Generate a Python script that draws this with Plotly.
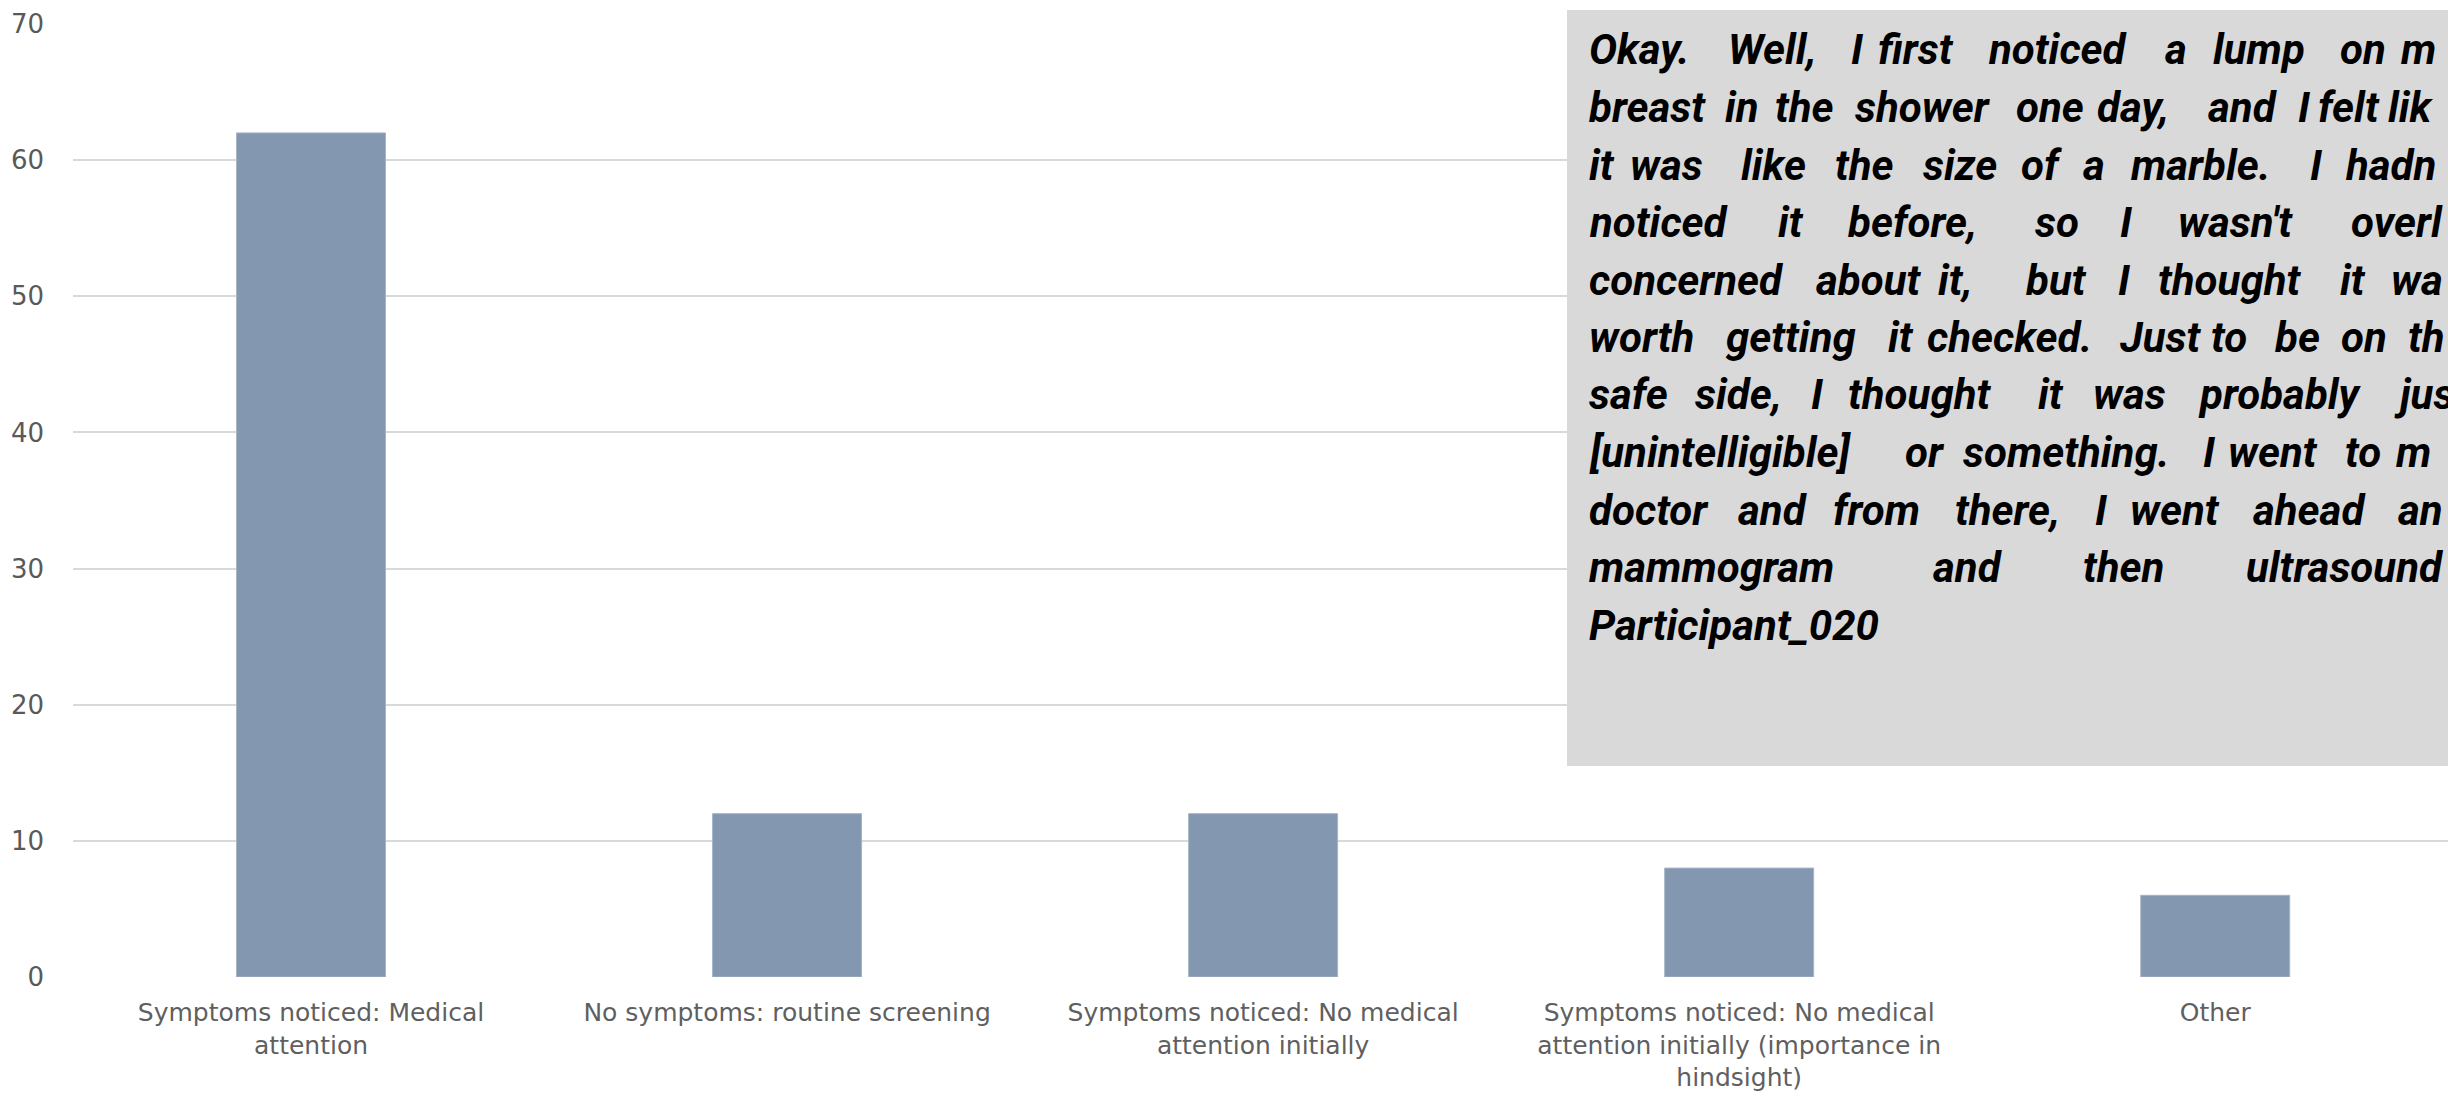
import plotly.graph_objects as go

# ---- data ---------------------------------------------------------------
categories = [
    "Symptoms noticed: Medical attention",
    "No symptoms: routine screening",
    "Symptoms noticed: No medical attention initially",
    "Symptoms noticed: No medical attention initially (importance in hindsight)",
    "Other",
]
tick_labels = [
    "Symptoms noticed: Medical<br>attention",
    "No symptoms: routine screening",
    "Symptoms noticed: No medical<br>attention initially",
    "Symptoms noticed: No medical<br>attention initially (importance in<br>hindsight)",
    "Other",
]
counts = [62, 12, 12, 8, 6]
y_ticks = [0, 10, 20, 30, 40, 50, 60, 70]

# quote text as it appears in the panel (the panel runs off the right edge)
quote_lines = [
    "Okay. Well, I first noticed a lump on m",
    "breast in the shower one day, and I felt lik",
    "it was like the size of a marble. I hadn",
    "noticed it before, so I wasn't overl",
    "concerned about it, but I thought it wa",
    "worth getting it checked. Just to be on th",
    "safe side, I thought it was probably jus",
    "[unintelligible] or something. I went to m",
    "doctor and from there, I went ahead an",
    "mammogram and then ultrasound",
    "Participant_020",
]

# ---- layout geometry (pixels) ------------------------------------------
W, H = 2448, 1099
M_L, M_T, M_B = 73, 24, 122
PLOT_W = W - M_L
PLOT_H = H - M_T - M_B

# left edge of each word in the justified quote block
word_x = [
    [1588, 1727, 1850, 1877, 1987, 2164, 2212, 2339, 2400],
    [1588, 1724, 1774, 1854, 2015, 2096, 2207, 2297, 2317, 2387],
    [1588, 1629, 1740, 1834, 1922, 2020, 2082, 2130, 2309, 2344],
    [1588, 1777, 1847, 2034, 2119, 2177, 2350],
    [1588, 1815, 1937, 2025, 2117, 2157, 2339, 2390],
    [1588, 1724, 1887, 1926, 2119, 2210, 2274, 2340, 2407],
    [1588, 1694, 1810, 1847, 2037, 2092, 2197, 2393],
    [1588, 1904, 1962, 2202, 2227, 2344, 2395],
    [1588, 1737, 1832, 1954, 2094, 2129, 2252, 2397],
    [1588, 1932, 2082, 2245],
    [1588],
]
LINE0_Y = 50
LINE_STEP = 57.5
BOX = dict(left=1567, top=10, bottom=766)


def px_x(px):
    return (px - M_L) / PLOT_W


def px_y(py):
    return (H - M_B - py) / PLOT_H


fig = go.Figure(
    go.Bar(
        x=categories,
        y=counts,
        width=0.313,
        marker=dict(color="#8497B0", line=dict(color="#A7B4C7", width=1)),
        hoverinfo="x+y",
    )
)

fig.update_layout(
    width=W,
    height=H,
    margin=dict(l=M_L, r=0, t=M_T, b=M_B, pad=0),
    paper_bgcolor="white",
    plot_bgcolor="white",
    showlegend=False,
    font=dict(family="DejaVu Sans", size=25, color="#595959"),
    bargap=0.687,
)

fig.update_xaxes(
    type="category",
    range=[-0.5, 4.489],
    tickmode="array",
    tickvals=categories,
    ticktext=tick_labels,
    tickangle=0,
    showgrid=False,
    showline=False,
    zeroline=False,
    ticks="",
    ticklabelstandoff=18,
    tickfont=dict(family="DejaVu Sans", size=25, color="#5f5f5f"),
)

fig.update_yaxes(
    range=[0, 70],
    tickmode="array",
    tickvals=y_ticks,
    showgrid=True,
    gridcolor="#D9D9D9",
    gridwidth=2,
    zeroline=False,
    showline=False,
    ticks="",
    ticklabelstandoff=28,
    tickfont=dict(family="DejaVu Sans", size=26, color="#595959"),
)

# grey quote panel
fig.add_shape(
    type="rect",
    xref="paper",
    yref="paper",
    x0=px_x(BOX["left"]),
    x1=1.2,
    y0=px_y(BOX["bottom"]),
    y1=px_y(BOX["top"]),
    fillcolor="#D9D9D9",
    line=dict(width=0),
    layer="above",
)

# justified quote, placed word by word
for i, line in enumerate(quote_lines):
    words = line.split(" ")
    for word, wx in zip(words, word_x[i]):
        fig.add_annotation(
            xref="paper",
            yref="paper",
            x=px_x(wx),
            y=px_y(LINE0_Y + LINE_STEP * i),
            text=word,
            showarrow=False,
            xanchor="left",
            yanchor="middle",
            borderpad=0,
            font=dict(family="Roboto", size=42, color="black",
                      weight="bold", style="italic"),
        )

fig.write_html("out.html")
